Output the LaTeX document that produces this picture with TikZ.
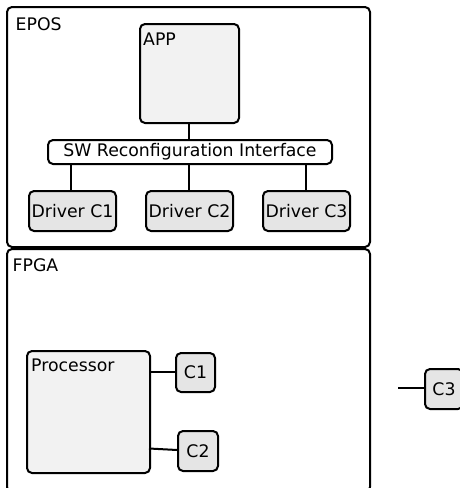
\documentclass[tikz,border=0pt]{standalone}
\usepackage{fontspec}
\setmainfont{DejaVu Sans}
\begin{document}
\begin{tikzpicture}[x=1pt,y=-1pt,
  box/.style={draw=black,line width=2pt,rounded corners=5pt},
  lightbox/.style={box,fill=lightfill},
  darkbox/.style={box,fill=darkfill},
  lbl/.style={font=\fontsize{17.3}{20}\selectfont,inner sep=0pt},
  conn/.style={line width=2pt}]
\definecolor{lightfill}{HTML}{F2F2F2}
\definecolor{darkfill}{HTML}{E5E5E5}
\useasboundingbox (0,0) rectangle (460,488);
% containers
\draw[box] (7,7) rectangle (370,247);
\node[lbl,anchor=north west] (eposl) at (15.5,17) {EPOS};
\draw[box] (7,249) rectangle (370,492);
\node[lbl,anchor=north west] (fpgal) at (12.5,258) {FPGA};
% APP
\node[lightbox,minimum width=99pt,minimum height=99pt,anchor=north west] (app) at (139,23) {};
\node[lbl,anchor=north west] (appl) at (143,33) {APP};
% SW interface
\node[box,fill=white,minimum width=284pt,minimum height=24pt,anchor=north west,lbl] (sw) at (47,139) {SW Reconfiguration Interface};
% drivers
\node[darkbox,lbl,minimum width=87pt,minimum height=40pt,anchor=north west] (d1) at (28,190) {Driver C1};
\node[darkbox,lbl,minimum width=87pt,minimum height=40pt,anchor=north west] (d2) at (145,190) {Driver C2};
\node[darkbox,lbl,minimum width=87pt,minimum height=40pt,anchor=north west] (d3) at (262,190) {Driver C3};
\coordinate (s0) at (189,122);
\draw[conn] (s0) -- (sw.north -| s0);
\coordinate (s1) at (71,163);
\draw[conn] (s1) -- (d1.north -| s1);
\coordinate (s2) at (189,163);
\draw[conn] (s2) -- (d2.north -| s2);
\coordinate (s3) at (306,163);
\draw[conn] (s3) -- (d3.north -| s3);
% processor
\node[lightbox,minimum width=123pt,minimum height=122pt,anchor=north west] (proc) at (26,350) {};
\node[lbl,anchor=north west] (procl) at (31,359) {Processor};
\node[darkbox,lbl,minimum width=39pt,minimum height=39pt,anchor=north west] (c1) at (175,352) {C1};
\node[darkbox,lbl,minimum width=40pt,minimum height=40pt,anchor=north west] (c2) at (177,430) {C2};
\node[darkbox,lbl,minimum width=38pt,minimum height=40pt,anchor=north west] (c3) at (424,368) {C3};
\coordinate (p1) at (149,372);
\draw[conn] (p1) -- (c1.west |- p1);
\coordinate (p2) at (149,448.5);
\draw[conn] (p2) -- (c2.west |- 0,450);
\coordinate (c3free) at (398,388);
\draw[conn] (c3free) -- (c3.west |- c3free);
\end{tikzpicture}
\end{document}
